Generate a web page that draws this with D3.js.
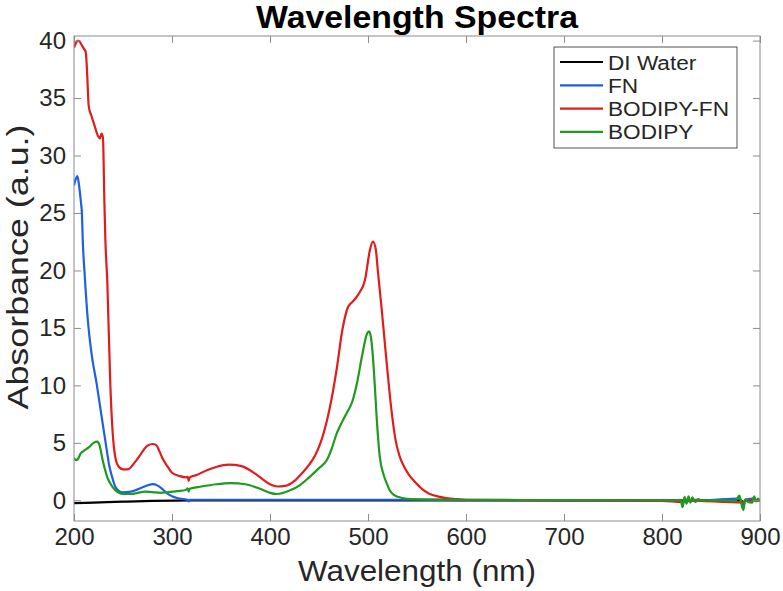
<!DOCTYPE html>
<html>
<head>
<meta charset="utf-8">
<script src="https://cdn.jsdelivr.net/npm/d3@7"></script>
<style>
  body { margin: 0; background: #fff; }
  text { font-family: "Liberation Sans", Arial, Helvetica, sans-serif; }
</style>
</head>
<body>
<div class="main"></div>
<script>
// canvas config
var W = 783, H = 591;
var margin = {top: 36, right: 23, bottom: 70, left: 74};
var width = W - margin.left - margin.right;
var height = H - margin.top - margin.bottom;

// tick labels
var xTicks = [200, 300, 400, 500, 600, 700, 800, 900];
var yTicks = [0, 5, 10, 15, 20, 25, 30, 35, 40];

// series names and colours
var seriesNames = ["DI Water", "FN", "BODIPY-FN", "BODIPY"];
var seriesColors = ["#000000", "#1f5fe6", "#e21b1b", "#1e9a1e"];

// DI Water
var wlWater  = [200, 220, 250, 280, 320, 400, 600, 800, 820, 823, 826, 830, 835, 840, 880, 883, 886, 894, 900];
var absWater = [-0.25, -0.2, -0.12, -0.05, 0.0, 0.0, 0.0, 0.0, 0.0, -0.1, 0.05, -0.05, 0.05, 0.0, 0.0, -0.15, 0.0, 0.05, 0.0];

// FN
var wlFN  = [200, 202, 203.5, 205, 207, 208, 209, 211, 214, 218, 223, 228, 233, 236, 239, 242, 246, 250, 258, 265, 272, 280, 285, 290, 295, 300, 305, 312, 316, 317, 318, 330, 400, 500, 540, 600, 700, 800, 819, 821, 823, 826, 830, 840, 879, 881, 883, 885, 894, 896, 900];
var absFN = [27.4, 28.0, 28.2, 27.5, 26.0, 25.1, 22.5, 19.5, 15.8, 12.7, 10.2, 7.4, 4.6, 3.0, 2.0, 1.2, 0.8, 0.7, 0.75, 0.95, 1.2, 1.4, 1.3, 1.0, 0.6, 0.35, 0.2, 0.1, 0.05, -0.1, 0.05, 0.05, 0.05, 0.05, 0.05, 0.02, 0.0, 0.0, 0.0, -0.3, 0.15, -0.1, 0.05, 0.0, 0.15, -0.1, -0.45, 0.05, 0.15, -0.05, 0.0];

// BODIPY-FN
var wlBF  = [200, 202, 204, 206, 208, 210, 212, 213.5, 215, 218, 221, 224.5, 226.5, 228, 229.5, 231, 232, 234, 237, 241, 245, 250, 255, 262, 268, 274, 280, 284, 287, 290, 295, 300, 308, 314, 316, 317, 318, 325, 335, 345, 358, 370, 380, 390, 400, 408, 415, 425, 432, 440, 446, 452, 458, 463, 468, 474, 479.5, 484.5, 490, 497, 502, 505, 508, 510, 514, 519, 524, 528, 532, 537, 542, 548, 555, 562, 573, 590, 600, 700, 800, 821, 823, 883, 885, 900];
var absBF = [39.4, 39.8, 40.0, 39.9, 39.6, 39.3, 39.0, 37.0, 34.3, 33.4, 32.6, 31.7, 31.5, 31.9, 31.6, 26.0, 22.7, 19.0, 10.2, 4.4, 3.0, 2.7, 2.7, 3.3, 4.0, 4.7, 4.9, 4.8, 4.3, 3.7, 3.0, 2.4, 2.1, 2.0, 2.05, 1.7, 2.0, 2.2, 2.6, 2.9, 3.1, 3.0, 2.6, 2.0, 1.4, 1.2, 1.25, 1.7, 2.3, 3.1, 3.9, 5.1, 6.9, 8.9, 11.4, 14.9, 16.8, 17.3, 17.9, 19.2, 21.8, 22.5, 21.8, 20.0, 16.6, 12.0, 7.8, 5.3, 3.9, 2.9, 2.2, 1.6, 1.0, 0.6, 0.3, 0.1, 0.05, 0.0, -0.05, -0.15, 0.0, -0.2, 0.0, -0.05];

// BODIPY
var wlBO  = [200, 202, 204, 207, 210, 215, 220, 223.5, 226, 229, 234, 239, 245, 250, 258, 265, 272, 280, 288, 295, 305, 314, 316, 317, 318, 330, 345, 360, 375, 390, 400, 407, 420, 431, 440, 450, 458, 463, 468, 474, 479, 484, 489, 494, 499, 501, 503, 505, 507, 509, 512, 516, 519, 522, 526, 535, 545, 600, 700, 800, 815, 819, 821, 823, 825, 827, 829, 831, 834, 837, 840, 860, 875, 879, 881, 883, 885, 887, 892, 894, 896, 898, 900];
var absBO = [3.7, 3.5, 3.6, 4.1, 4.3, 4.6, 5.0, 5.1, 4.8, 3.6, 2.0, 1.2, 0.7, 0.55, 0.55, 0.65, 0.75, 0.72, 0.65, 0.7, 0.8, 0.9, 1.05, 0.75, 1.0, 1.2, 1.4, 1.5, 1.4, 1.0, 0.65, 0.55, 0.85, 1.35, 2.0, 2.8, 3.5, 4.5, 5.8, 6.9, 7.7, 8.6, 10.3, 12.6, 14.5, 14.7, 14.2, 12.5, 9.9, 7.0, 3.8, 2.2, 1.5, 0.9, 0.5, 0.2, 0.1, 0.05, 0.02, 0.0, 0.0, 0.05, -0.6, 0.3, -0.3, 0.35, -0.2, 0.25, -0.15, 0.1, 0.0, 0.0, -0.05, 0.4, -0.3, -0.85, 0.1, -0.1, -0.2, 0.35, -0.1, 0.15, -0.1];

var allWl = [wlWater, wlFN, wlBF, wlBO];
var allAbs = [absWater, absFN, absBF, absBO];

var svg = d3.select(".main")
  .append("svg")
  .attr("width", W)
  .attr("height", H);

var g = svg.append("g")
  .attr("transform", "translate(" + margin.left + "," + margin.top + ")");

var xScale = d3.scaleLinear().domain([200, 900]).range([0, width]);
var yScale = d3.scaleLinear().domain([-1.8, 40.4]).range([height, 0]);

var axisColor = "#8c8c8c";
var labelColor = "#262626";

// lines
var lineFunc = d3.line()
  .x(function(d) { return xScale(d[0]); })
  .y(function(d) { return yScale(d[1]); })
  .curve(d3.curveMonotoneX);

g.append("defs").append("clipPath").attr("id", "clip")
  .append("rect").attr("width", width).attr("height", height);

var lines = g.append("g").attr("clip-path", "url(#clip)");
for (var i = 0; i < seriesNames.length; i++) {
  var pts = allWl[i].map(function(w, j) { return [w, allAbs[i][j]]; });
  lines.append("path")
    .attr("d", lineFunc(pts))
    .attr("fill", "none")
    .attr("stroke", seriesColors[i])
    .attr("stroke-width", 2.2)
    .attr("stroke-linejoin", "round");
}

// axes (ticks inside, mirrored on top and right)
var xAxis = d3.axisBottom(xScale).tickValues(xTicks).tickSizeInner(-7).tickSizeOuter(0).tickPadding(7);
var yAxis = d3.axisLeft(yScale).tickValues(yTicks).tickSizeInner(-7).tickSizeOuter(0).tickPadding(8);
var xTop = d3.axisTop(xScale).tickValues(xTicks).tickSizeInner(-7).tickSizeOuter(0).tickFormat("");
var yRight = d3.axisRight(yScale).tickValues(yTicks).tickSizeInner(-7).tickSizeOuter(0).tickFormat("");

g.append("g").attr("class", "x-axis").attr("transform", "translate(0," + height + ")").call(xAxis);
g.append("g").attr("class", "y-axis").call(yAxis);
g.append("g").call(xTop);
g.append("g").attr("transform", "translate(" + width + ",0)").call(yRight);

g.selectAll(".domain").attr("stroke", "none");
g.selectAll(".tick line").attr("stroke", axisColor);
g.selectAll(".tick text").attr("fill", labelColor).style("font-size", "24px");

g.append("rect")
  .attr("width", width).attr("height", height)
  .attr("fill", "none").attr("stroke", axisColor).attr("stroke-width", 1);

// title and labels
svg.append("text")
  .attr("x", margin.left + width / 2).attr("y", 28)
  .attr("text-anchor", "middle")
  .style("font-size", "32px").style("font-weight", "bold")
  .attr("textLength", 322).attr("lengthAdjust", "spacingAndGlyphs")
  .attr("fill", "#000")
  .text("Wavelength Spectra");

svg.append("text")
  .attr("x", margin.left + width / 2).attr("y", 581)
  .attr("text-anchor", "middle")
  .style("font-size", "30px")
  .attr("textLength", 238).attr("lengthAdjust", "spacingAndGlyphs")
  .attr("fill", labelColor)
  .text("Wavelength (nm)");

svg.append("text")
  .attr("transform", "translate(28,267) rotate(-90)")
  .attr("text-anchor", "middle")
  .style("font-size", "30px")
  .attr("textLength", 285).attr("lengthAdjust", "spacingAndGlyphs")
  .attr("fill", labelColor)
  .text("Absorbance (a.u.)");

// legend (text kept at 20px and stretched a bit to the reference widths)
var legend = svg.append("g").attr("transform", "translate(554,47)");
legend.append("rect")
  .attr("width", 183).attr("height", 101)
  .attr("fill", "#fff").attr("stroke", "#262626").attr("stroke-width", 0.8);
seriesNames.forEach(function(name, i) {
  var yy = 15 + i * 23.3;
  legend.append("line")
    .attr("x1", 6).attr("x2", 49).attr("y1", yy).attr("y2", yy)
    .attr("stroke", seriesColors[i]).attr("stroke-width", 2.2);
  var t = legend.append("text")
    .attr("x", 54).attr("y", yy + 7.5)
    .style("font-size", "20px")
    .attr("fill", labelColor)
    .text(name);
  var len = t.node().getComputedTextLength();
  t.attr("textLength", len * 1.13).attr("lengthAdjust", "spacingAndGlyphs");
});
</script>
</body>
</html>
